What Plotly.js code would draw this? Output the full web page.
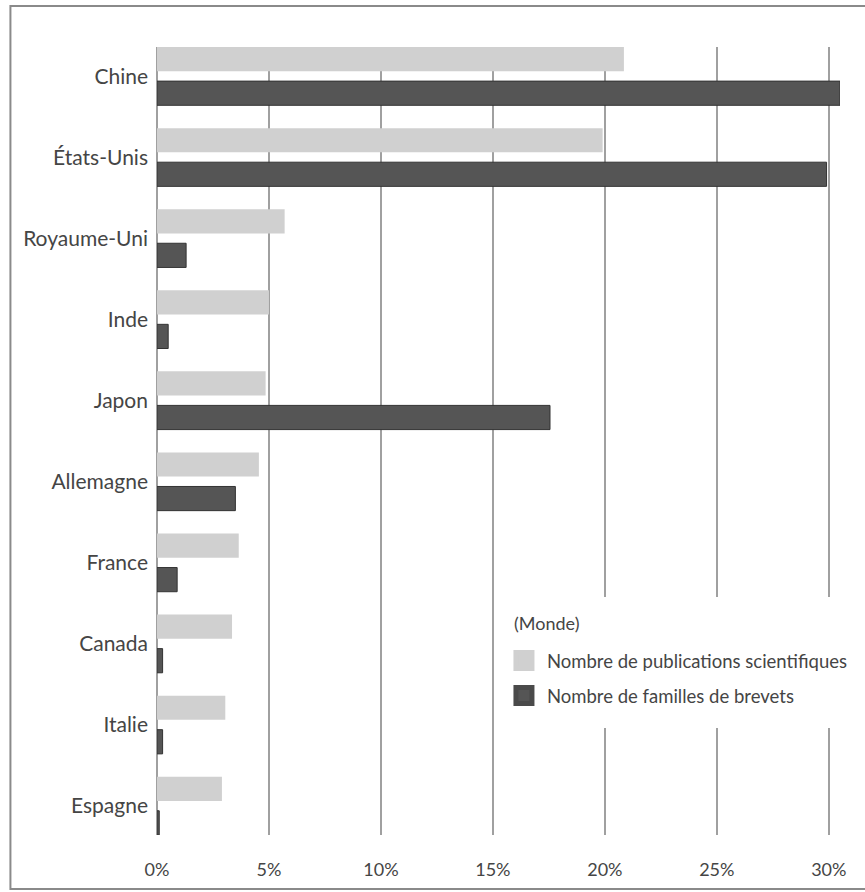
<!DOCTYPE html>
<html>
<head>
<meta charset="utf-8">
<script src="https://cdn.plot.ly/plotly-3.0.1.min.js"></script>
<style>html,body{margin:0;padding:0;background:#fff;}#chart{width:865px;height:892px;}</style>
</head>
<body>
<div id="chart"></div>
<script>
var pays = ["Chine", "États-Unis", "Royaume-Uni", "Inde", "Japon", "Allemagne", "France", "Canada", "Italie", "Espagne"];
var publications = [20.85, 19.9, 5.7, 5.0, 4.85, 4.55, 3.65, 3.35, 3.05, 2.9];
var brevets = [30.5, 29.9, 1.3, 0.5, 17.55, 3.5, 0.9, 0.25, 0.25, 0.1];
var tickVals = [0, 5, 10, 15, 20, 25, 30];
var tickLabels = ["0%", "5%", "10%", "15%", "20%", "25%", "30%"];
var nomPublications = "Nombre de publications scientifiques";
var nomBrevets = "Nombre de familles de brevets";
var legendeTitre = "(Monde)";

var light = "#d0d0d0", dark = "#555555", txt = "#454545";

var traces = [
  {type: "bar", orientation: "h", y: pays, x: publications, name: nomPublications,
   marker: {color: light, line: {width: 0}}, showlegend: false, hoverinfo: "x+y"},
  {type: "bar", orientation: "h", y: pays, x: brevets, name: nomBrevets,
   marker: {color: dark, line: {color: "#333333", width: 1}}, showlegend: false, hoverinfo: "x+y"},
  {type: "scatter", mode: "markers", x: [null], y: [null], name: nomPublications,
   marker: {symbol: "square", size: 16, color: light, line: {color: light, width: 5}}, legendgroup: "a"},
  {type: "scatter", mode: "markers", x: [null], y: [null], name: nomBrevets,
   marker: {symbol: "square", size: 16, color: dark, line: {color: "#4a4a4a", width: 5}}, legendgroup: "b"}
];

var layout = {
  width: 865, height: 892,
  margin: {l: 157, r: 23, t: 47, b: 57, pad: 0},
  paper_bgcolor: "#ffffff", plot_bgcolor: "#ffffff",
  font: {family: "Lato, 'Open Sans', sans-serif", color: txt},
  barmode: "group", bargap: 0.16, bargroupgap: 0.29,
  xaxis: {
    range: [0, 30.5], tickmode: "array", tickvals: tickVals, ticktext: tickLabels,
    showgrid: true, gridcolor: "#a0a0a0", gridwidth: 1.5,
    zeroline: true, zerolinecolor: "#a0a0a0", zerolinewidth: 1.5,
    showline: false, ticks: "", ticklabelstandoff: 22,
    tickfont: {size: 18, color: txt}, fixedrange: true
  },
  yaxis: {
    type: "category", categoryorder: "array", categoryarray: pays,
    range: [9.36, -0.36], showgrid: false, zeroline: false, showline: false,
    ticks: "", ticklabelstandoff: 8, tickfont: {size: 21, color: txt}, fixedrange: true
  },
  legend: {
    x: 0.5036, y: 0.245, xanchor: "left", yanchor: "top",
    bgcolor: "rgba(0,0,0,0)", borderwidth: 0,
    font: {size: 18.5, color: txt},
    itemwidth: 36, tracegroupgap: 8, traceorder: "grouped"
  },
  annotations: [{
    text: legendeTitre, xref: "paper", yref: "paper", x: 0.5197, y: 0.269,
    xanchor: "left", yanchor: "middle", showarrow: false,
    font: {size: 18, color: txt}
  }],
  shapes: [
    {type: "rect", xref: "paper", yref: "paper", x0: 0.5007, x1: 1.0, y0: 0.1358, y1: 0.302,
     line: {width: 0}, fillcolor: "#ffffff", layer: "above"},
    {type: "rect", xref: "paper", yref: "paper",
     x0: -0.2146, x1: 1.041, y0: -0.0685, y1: 1.052,
     line: {color: "#8a8a8a", width: 2}, fillcolor: "rgba(0,0,0,0)", layer: "above"}
  ]
};

Plotly.newPlot("chart", traces, layout, {displayModeBar: false, staticPlot: true});
</script>
</body>
</html>
